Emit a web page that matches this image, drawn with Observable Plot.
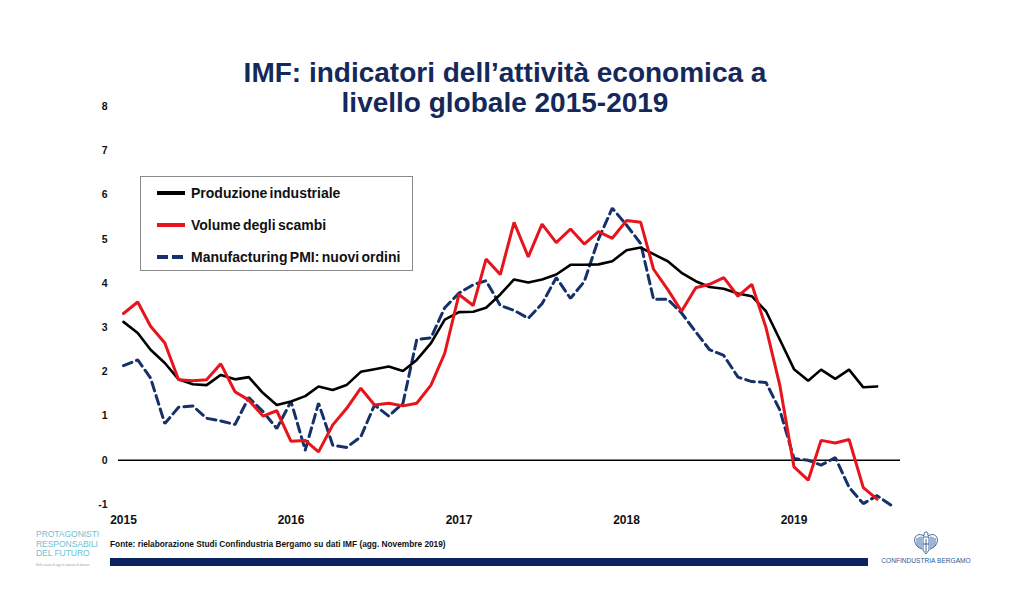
<!DOCTYPE html>
<html><head><meta charset="utf-8">
<script src="https://cdn.jsdelivr.net/npm/d3@7"></script>
<script src="https://cdn.jsdelivr.net/npm/@observablehq/plot@0.6"></script>
<style>
html,body{margin:0;padding:0;background:#fff;width:1024px;height:606px;overflow:hidden;font-family:"Liberation Sans",Arial,sans-serif;}
#wrap{position:relative;width:1024px;height:606px;}
#chart{position:absolute;left:0;top:0;}
.title{position:absolute;left:0;width:1010px;text-align:center;font-weight:bold;color:#14285a;font-size:28px;line-height:30px;white-space:nowrap;}
#legend{position:absolute;left:140px;top:176px;width:271px;height:93px;border:1px solid #8a8a8a;background:#fff;}
.li{position:absolute;left:16px;height:20px;display:flex;align-items:center;font-weight:bold;font-size:14px;color:#111;white-space:nowrap;word-spacing:-1.5px;}
.li svg{margin-right:6px;}
#fonte{position:absolute;left:110px;top:539px;font-size:8.3px;font-weight:bold;color:#111;white-space:nowrap;}
#bar{position:absolute;left:110px;top:558px;width:758px;height:8px;background:#0b2460;}
#prot{position:absolute;left:36px;top:530px;color:#6cc3d5;font-size:8.6px;line-height:9.6px;letter-spacing:-0.1px;}
#prot .small{font-size:3px;line-height:6px;color:#9aa;letter-spacing:0;}
#conf{position:absolute;left:878px;top:531px;width:96px;text-align:center;color:#2a5a96;font-size:6.6px;}
</style></head>
<body><div id="wrap">
<div id="chart"></div>
<div class="title" style="top:58px">IMF: indicatori dell’attività economica a</div>
<div class="title" style="top:88px">livello globale 2015-2019</div>
<div id="legend"></div>
<div id="prot">PROTAGONISTI<br>RESPONSABILI<br>DEL FUTURO<br><span class="small">Nelle azioni di oggi la risposta di domani</span></div>
<div id="fonte">Fonte: rielaborazione Studi Confindustria Bergamo su dati IMF (agg. Novembre 2019)</div>
<div id="bar"></div>
<div id="conf">
<svg width="26" height="24" viewBox="0 0 26 24" style="display:block;margin:0 auto 2px auto">
<g fill="none" stroke="#2a5a96" stroke-width="0.9">
<path d="M13 1 C11 1 10.5 3 11.5 4 L10 5 M13 1 C15 1 15.5 3 14.5 4 L16 5"/>
<path d="M11 5 C6 2 2 4 1.5 9 C2 14 5 17 9 18 M15 5 C20 2 24 4 24.5 9 C24 14 21 17 17 18"/>
<path d="M4 7 L4 15 M6 6 L6 16.5 M8 5.5 L8 17.5 M18 5.5 L18 17.5 M20 6 L20 16.5 M22 7 L22 15"/>
<path d="M10 6 L10 19 L13 23 L16 19 L16 6 Z M13 8 L13 21 M10 13 L16 13"/>
</g></svg>
CONFINDUSTRIA BERGAMO</div>
</div>
<script>
// Monthly data, Jan 2015 onwards (% yoy, IMF)
const startYear = 2015;
const prodInd = [3.13,2.88,2.5,2.2,1.83,1.72,1.70,1.93,1.83,1.88,1.52,1.25,
  1.33,1.45,1.67,1.59,1.70,2.0,2.06,2.12,2.02,2.27,2.65,3.18,
  3.35,3.36,3.45,3.75,4.09,4.02,4.09,4.2,4.42,4.42,4.43,4.5,
  4.75,4.81,4.66,4.5,4.24,4.05,3.92,3.88,3.77,3.71,3.37,2.73,
  2.06,1.80,2.05,1.84,2.05,1.65,1.67];
const volScambi = [3.32,3.58,3.03,2.65,1.82,1.80,1.82,2.18,1.55,1.36,1.0,1.12,
  0.43,0.45,0.19,0.8,1.17,1.63,1.25,1.29,1.23,1.29,1.70,2.42,
  3.75,3.5,4.55,4.2,5.38,4.6,5.34,4.92,5.23,4.89,5.17,5.02,
  5.42,5.38,4.32,3.86,3.37,3.9,3.98,4.13,3.71,3.98,3.0,1.7,
  -0.15,-0.45,0.45,0.39,0.47,-0.62,-0.88];
const pmiOrdini = [2.14,2.27,1.86,0.83,1.2,1.23,0.95,0.89,0.81,1.42,1.1,0.72,
  1.33,0.23,1.29,0.34,0.29,0.53,1.25,1.0,1.29,2.73,2.77,3.45,
  3.78,3.97,4.06,3.5,3.39,3.21,3.54,4.13,3.66,4.04,5.0,5.7,
  5.32,4.9,3.64,3.64,3.33,2.9,2.5,2.37,1.88,1.78,1.76,1.14,
  0.04,0.0,-0.11,0.06,-0.61,-0.98,-0.8,-1.02];
const yearTicks = [2015,2016,2017,2018,2019];
const yTicks = [-1,0,1,2,3,4,5,6,7,8];
const seriesNames = ["Produzione industriale","Volume degli scambi","Manufacturing PMI: nuovi ordini"];
const seriesColors = ["#000000","#e8141c","#16316a"];

const month = i => new Date(Date.UTC(startYear, i, 1));
const toRows = (arr, s) => arr.map((v, i) => ({date: month(i), value: v, series: s}));
const rows0 = toRows(prodInd, seriesNames[0]);
const rows1 = toRows(volScambi, seriesNames[1]);
const rows2 = toRows(pmiOrdini, seriesNames[2]);

const chart = Plot.plot({
  width: 1024, height: 606,
  marginTop: 106, marginBottom: 102, marginLeft: 118, marginRight: 124,
  style: {fontFamily: "Liberation Sans, Arial, sans-serif", background: "transparent"},
  x: {type: "utc", domain: [new Date(Date.UTC(2015,0,1)), new Date(Date.UTC(2020,0,1))], range: [123, 961]},
  y: {domain: [-1, 8], range: [504, 106]},
  marks: [
    Plot.axisY(yTicks, {label: null, tickSize: 0, tickPadding: 11, fontSize: 10.5, fontWeight: "bold", fill: "#111", tickFormat: d => String(d)}),
    Plot.axisX(yearTicks.map(y => new Date(Date.UTC(y,0,1))), {label: null, tickSize: 0, tickPadding: 11, fontSize: 12, fontWeight: "bold", fill: "#111", tickFormat: d => String(d.getUTCFullYear())}),
    Plot.ruleY([0], {stroke: "#000", strokeWidth: 1.6}),
    Plot.lineY(rows2, {x: "date", y: "value", stroke: seriesColors[2], strokeWidth: 3, strokeDasharray: "9,5", strokeLinejoin: "miter"}),
    Plot.lineY(rows0, {x: "date", y: "value", stroke: seriesColors[0], strokeWidth: 2.6, strokeLinejoin: "miter"}),
    Plot.lineY(rows1, {x: "date", y: "value", stroke: seriesColors[1], strokeWidth: 3, strokeLinejoin: "miter"})
  ]
});
document.getElementById("chart").appendChild(chart);

const leg = document.getElementById("legend");
const tops = [6, 38, 70];
seriesNames.forEach((name, k) => {
  const d = document.createElement("div");
  d.className = "li";
  d.style.top = tops[k] + "px";
  const dash = k === 2 ? 'stroke-dasharray="11,4"' : '';
  d.innerHTML = `<svg width="28" height="6"><line x1="0" y1="3" x2="28" y2="3" stroke="${seriesColors[k]}" stroke-width="4" ${dash}/></svg>${name}`;
  leg.appendChild(d);
});
</script>
</body></html>
